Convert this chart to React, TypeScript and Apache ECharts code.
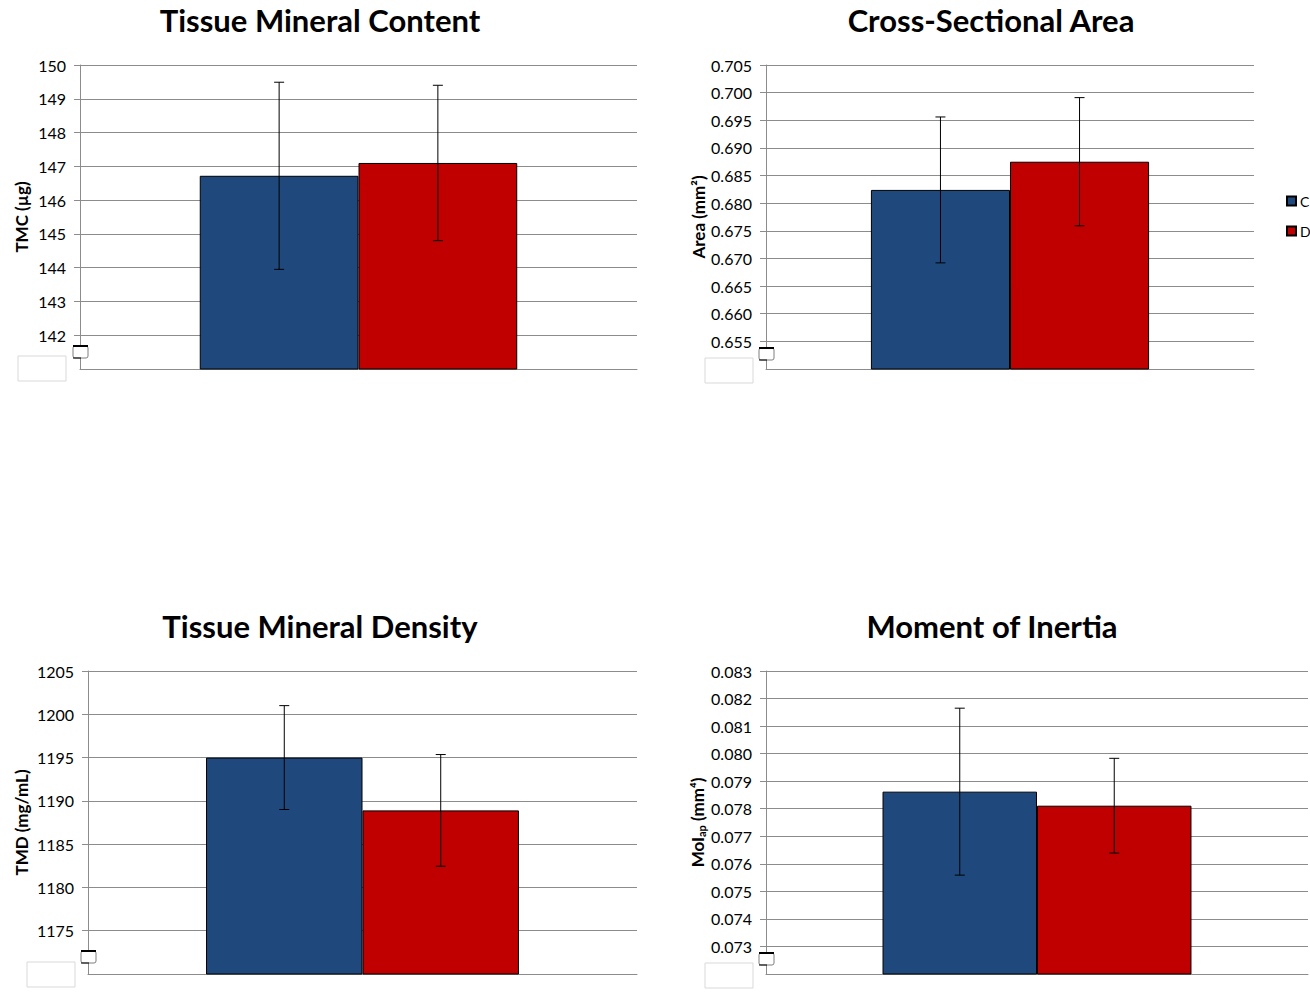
import React, { useEffect, useRef } from "react";
import * as echarts from "echarts";

const groups = ["C", "D"];
const titles = ["Tissue Mineral Content", "Cross-Sectional Area", "Tissue Mineral Density", "Moment of Inertia"];
const tmcMeans = [146.72, 147.1];
const tmcErr = [2.77, 2.3];
const areaMeans = [0.6824, 0.6875];
const areaErr = [0.0132, 0.0116];
const tmdMeans = [1195.0, 1188.9];
const tmdErr = [6.0, 6.45];
const moiMeans = [0.07862, 0.07811];
const moiErr = [0.00303, 0.00172];
const yMins = [141, 0.65, 1170, 0.072];
const yMaxs = [150, 0.705, 1205, 0.083];
const yIntervals = [1, 0.005, 5, 0.001];
const yDecimals = [0, 3, 0, 3];

const FONT = "Lato";
const BLUE = "#1f497d";
const RED = "#c00000";
const GRIDC = "#8c8c8c";

export default function App() {
  const ref = useRef<HTMLDivElement>(null);
  useEffect(() => {
    if (!ref.current) return;
    const chart = echarts.init(ref.current, null, { renderer: "svg" });
    const means = [tmcMeans, areaMeans, tmdMeans, moiMeans];
    const errs = [tmcErr, areaErr, tmdErr, moiErr];
    const grids = [
      { left: 80, top: 65, width: 557, height: 304 },
      { left: 766, top: 65, width: 488, height: 304 },
      { left: 88, top: 671, width: 549, height: 303 },
      { left: 766, top: 671, width: 542, height: 303 },
    ];
    const titleCenters = [[320, 4], [991, 4], [320, 610], [992, 610]];
    const names = ["TMC (µg)", "Area (mm²)", "TMD (mg/mL)", "{b|MoI}{sub|ap}{b| (mm⁴)}"];
    const nameGaps = [50, 58, 58, 58];

    const series: any[] = [];
    for (let g = 0; g < 4; g++) {
      groups.forEach((name, i) => {
        series.push({
          type: "bar",
          name,
          xAxisIndex: g,
          yAxisIndex: g,
          data: [means[g][i]],
          barGap: "0%",
          barCategoryGap: "43%",
          itemStyle: { color: i === 0 ? BLUE : RED, borderColor: "#000", borderWidth: 1 },
          emphasis: { disabled: true },
        });
      });
      series.push({
        type: "custom",
        name: "err" + g,
        xAxisIndex: g,
        yAxisIndex: g,
        z: 10,
        data: groups.map((_, i) => [0, means[g][i] - errs[g][i], means[g][i] + errs[g][i], i === 0 ? -1 : 1]),
        renderItem: (params: any, api: any) => {
          const lo = api.coord([api.value(0), api.value(1)]);
          const hi = api.coord([api.value(0), api.value(2)]);
          const band = api.size([1, 0])[0];
          const bw = band * 0.285;
          const x = lo[0] + api.value(3) * bw / 2;
          const cap = 5;
          const st = { stroke: "#000", lineWidth: 1 };
          return {
            type: "group",
            children: [
              { type: "line", shape: { x1: x, y1: lo[1], x2: x, y2: hi[1] }, style: st },
              { type: "line", shape: { x1: x - cap, y1: lo[1], x2: x + cap, y2: lo[1] }, style: st },
              { type: "line", shape: { x1: x - cap, y1: hi[1], x2: x + cap, y2: hi[1] }, style: st },
            ],
          };
        },
      });
    }

    const graphics: any[] = [];
    const breaks = [
      { ax: 80, y: 346, box: [18, 356] },
      { ax: 766, y: 348, box: [705, 358] },
      { ax: 88, y: 951, box: [27, 962] },
      { ax: 766, y: 953, box: [705, 963] },
    ];
    breaks.forEach((b) => {
      graphics.push({
        type: "rect",
        shape: { x: b.box[0], y: b.box[1], width: 48, height: 25 },
        style: { fill: "#fff", stroke: "#d9d9d9", lineWidth: 1 },
        z: 100,
      });
      graphics.push({
        type: "rect",
        shape: { x: b.ax - 7, y: b.y, width: 15, height: 12, r: 2 },
        style: { fill: "#fff", stroke: "#7f7f7f", lineWidth: 1 },
        z: 100,
      });
      graphics.push({
        type: "line",
        shape: { x1: b.ax - 7, y1: b.y, x2: b.ax + 8, y2: b.y },
        style: { stroke: "#000", lineWidth: 2 },
        z: 101,
      });
      graphics.push({
        type: "line",
        shape: { x1: b.ax - 7, y1: b.y + 12, x2: b.ax + 1, y2: b.y + 12 },
        style: { stroke: "#000", lineWidth: 1 },
        z: 101,
      });
    });

    chart.setOption({
      animation: false,
      textStyle: { fontFamily: FONT },
      title: titles.map((t, g) => ({
        text: t,
        left: titleCenters[g][0],
        top: titleCenters[g][1],
        textAlign: "center",
        padding: 0,
        textStyle: { fontFamily: FONT, fontWeight: "bold", fontSize: 31, color: "#000" },
      })),
      legend: {
        data: groups,
        orient: "vertical",
        left: 1281,
        top: 189,
        itemWidth: 9,
        itemHeight: 9,
        itemGap: 16,
        icon: "rect",
        selectedMode: false,
        textStyle: { fontFamily: FONT, fontSize: 14, color: "#000", padding: [0, 0, 0, -1] },
      },
      grid: grids,
      xAxis: grids.map((_, g) => ({
        type: "category",
        gridIndex: g,
        data: [""],
        axisLine: { show: true, lineStyle: { color: GRIDC } },
        axisTick: { show: false },
        axisLabel: { show: false },
      })),
      yAxis: grids.map((_, g) => ({
        type: "value",
        gridIndex: g,
        min: yMins[g],
        max: yMaxs[g],
        interval: yIntervals[g],
        name: names[g],
        nameLocation: "middle",
        nameGap: nameGaps[g],
        nameRotate: 90,
        nameTextStyle: {
          fontFamily: FONT,
          fontWeight: "bold",
          fontSize: 17,
          color: "#000",
          rich: {
            b: { fontFamily: FONT, fontWeight: "bold", fontSize: 17, color: "#000", lineHeight: 20 },
            sub: { fontFamily: FONT, fontWeight: "bold", fontSize: 11, color: "#000", lineHeight: 20, verticalAlign: "bottom", padding: [7, 0, 0, 0] },
          },
        },
        axisLine: { show: true, lineStyle: { color: GRIDC } },
        axisTick: { show: true, length: 6, lineStyle: { color: GRIDC } },
        splitLine: { show: true, lineStyle: { color: GRIDC, width: 1 } },
        axisLabel: {
          showMinLabel: false,
          margin: 14,
          fontFamily: FONT,
          fontSize: 16,
          color: "#000",
          formatter: (v: number) => v.toFixed(yDecimals[g]),
        },
      })),
      series,
      graphic: graphics,
    });
    return () => chart.dispose();
  }, []);
  return <div ref={ref} style={{ position: "fixed", left: 0, top: 0, width: 1310, height: 992, background: "#fff" }} />;
}
